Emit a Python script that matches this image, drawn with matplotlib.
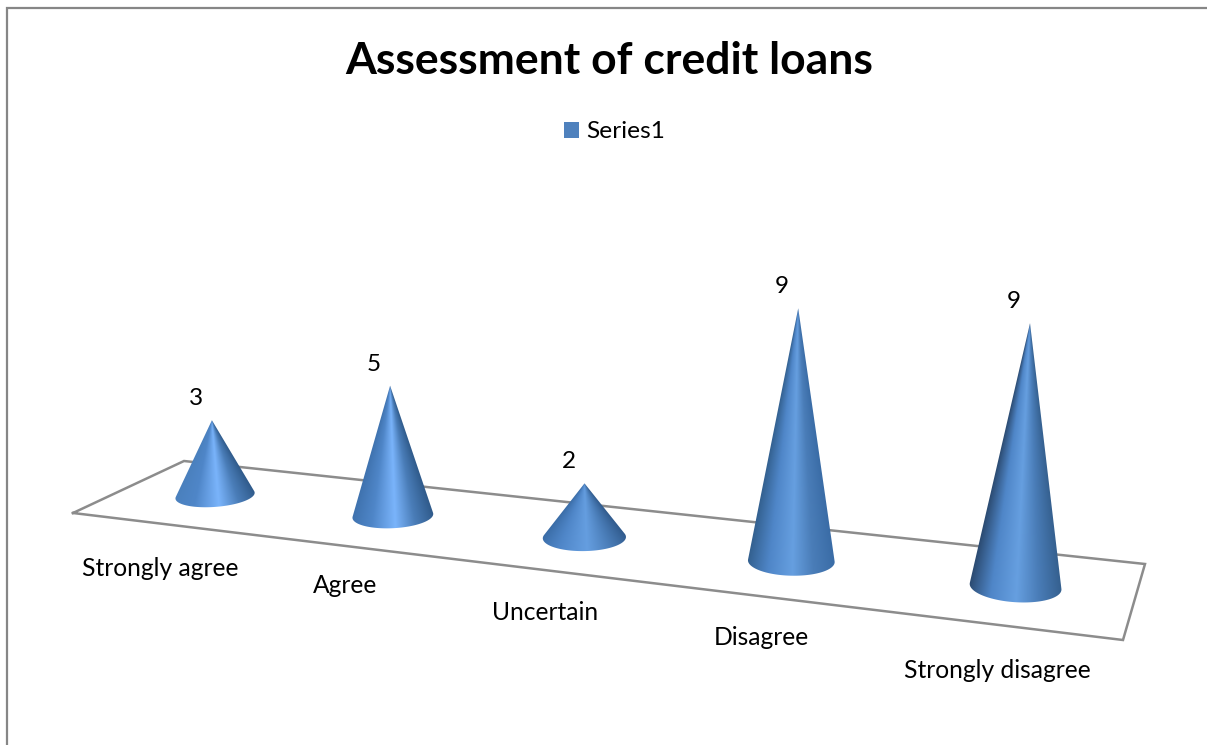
import numpy as np
import matplotlib
matplotlib.use("Agg")
import matplotlib.pyplot as plt
from matplotlib.colors import to_rgb
from matplotlib.patches import Patch, Polygon

# Survey responses
categories = ["Strongly agree", "Agree", "Uncertain", "Disagree", "Strongly disagree"]
values = [3, 5, 2, 9, 9]
series_name = "Series1"
chart_title = "Assessment of credit loans"

# Floor plane of the 3-D view, in figure pixels: front-left, front-right, back-right, back-left
FLOOR = np.array([[73, 513], [1123, 640], [1145, 564], [184, 461]], dtype=float)
RADIUS_U, RADIUS_V = 0.0388, 0.205
UNIT_HEIGHT = 25.8
LEAN = 1.25e-4
LEAN_CENTRE = 570.0
LABEL_DROP = [44.5, 39.5, 42, 41.5, 46]

# Cone shading, one colour per cone for the left edge, the highlight and the right edge
EDGE_LEFT = ["#4a80bd", "#3f72ae", "#3a6ca6", "#33608f", "#2b4a70"]
HIGHLIGHT = ["#7ab4fb", "#7ab4fb", "#659ee0", "#669fe0", "#669fe0"]
EDGE_RIGHT = ["#2f5a8a", "#2f5a8a", "#305a8c", "#3a6ca6", "#35608f"]
BLUE_LEFT, BLUE_RIGHT = "#4f86c8", "#4a7db8"
FLOOR_GREY = "#8c8c8c"
FRAME_GREY = "#868686"
LEGEND_BLUE = "#4f81bd"
FONT = "Lato"


def floor_projection(corners):
    """Projective map from the unit square on the floor to pixels."""
    (x0, y0), (x1, y1), (x2, y2), (x3, y3) = corners
    dx1, dx2, dx3 = x1 - x2, x3 - x2, x0 - x1 + x2 - x3
    dy1, dy2, dy3 = y1 - y2, y3 - y2, y0 - y1 + y2 - y3
    det = dx1 * dy2 - dx2 * dy1
    g = (dx3 * dy2 - dx2 * dy3) / det
    h = (dx1 * dy3 - dx3 * dy1) / det
    a, b = x1 - x0 + g * x1, x3 - x0 + h * x3
    d, e = y1 - y0 + g * y1, y3 - y0 + h * y3

    def project(u, v):
        w = g * u + h * v + 1.0
        return (a * u + b * v + x0) / w, (d * u + e * v + y0) / w, w

    return project


def shade(s, i):
    stops = [0.0, 0.25, 0.52, 0.75, 1.0]
    cols = np.array([to_rgb(c) for c in (EDGE_LEFT[i], BLUE_LEFT, HIGHLIGHT[i],
                                         BLUE_RIGHT, EDGE_RIGHT[i])])
    return np.stack([np.interp(s, stops, cols[:, k]) for k in range(3)], axis=-1)


project = floor_projection(FLOOR)

fig = plt.figure(figsize=(12.07, 7.45), dpi=100)
ax = fig.add_axes([0, 0, 1, 1])
ax.axis("off")

# Chart frame: only the top and left sides fall inside the canvas
ax.plot([7, 7, 1207], [745, 8, 8], color=FRAME_GREY, lw=1.6, solid_capstyle="butt",
        solid_joinstyle="miter", zorder=1)

# Floor outline
ax.plot(*np.vstack([FLOOR, FLOOR[:1]]).T, color=FLOOR_GREY, lw=1.8, zorder=2,
        solid_joinstyle="miter")

n = len(categories)
theta = np.linspace(0, 2 * np.pi, 721)[:-1]
for i, (cat, val) in enumerate(zip(categories, values)):
    u0 = (i + 0.5) / n
    cx, cy, w0 = project(u0, 0.5)
    height = val * UNIT_HEIGHT / w0
    apex_x = cx + (cx - LEAN_CENTRE) * LEAN * height
    apex_y = cy - height

    rim_x, rim_y, _ = project(u0 + RADIUS_U * np.cos(theta), 0.5 + RADIUS_V * np.sin(theta))

    # Silhouette: the apex plus the near arc between the two tangent rays
    slope = (rim_x - apex_x) / (rim_y - apex_y)
    i_left, i_right = int(np.argmin(slope)), int(np.argmax(slope))
    steps = (i_left - i_right) % len(theta)
    arc_a = (i_right + np.arange(steps + 1)) % len(theta)
    arc_b = (i_left + np.arange(len(theta) - steps + 1)) % len(theta)
    arc = arc_a if rim_y[arc_a].mean() > rim_y[arc_b].mean() else arc_b
    outline = np.vstack([[apex_x, apex_y], np.column_stack([rim_x[arc], rim_y[arc]])])
    silhouette = Polygon(outline, closed=True, transform=ax.transData)

    # Shading runs along straight rays from the apex, fading from edge to highlight
    x0, x1 = np.floor(outline[:, 0].min()) - 1, np.ceil(outline[:, 0].max()) + 1
    y0, y1 = np.floor(apex_y) - 1, np.ceil(rim_y.max()) + 1
    gx, gy = np.meshgrid(np.arange(x0, x1, 0.5) + 0.25, np.arange(y0, y1, 0.5) + 0.25)
    ray = (gx - apex_x) / np.maximum(gy - apex_y, 0.5)
    s = np.clip((ray - slope.min()) / (slope.max() - slope.min()), 0, 1)
    image = ax.imshow(shade(s, i), extent=(x0, x1, y1, y0), origin="upper", aspect="auto",
                      interpolation="bilinear", zorder=3)
    image.set_clip_path(silhouette)

    ax.text(apex_x - 16, apex_y - 21.5, str(val), ha="center", va="center",
            fontsize=17.5, family=FONT, color="black", zorder=5)

    fx, fy, _ = project(u0, 0.0)
    ax.text(fx, fy + LABEL_DROP[i], cat, ha="center", va="center",
            fontsize=17.7, family=FONT, color="black", zorder=5)

ax.text(609.5, 61.5, chart_title, ha="center", va="center", fontsize=32, fontweight="bold",
        family=FONT, color="black")

ax.legend(handles=[Patch(facecolor=LEGEND_BLUE, label=series_name)],
          loc="center", bbox_to_anchor=(614.5 / 1207, 1 - 132 / 745),
          frameon=False, handlelength=0.62, handleheight=0.62, handletextpad=0.3,
          borderpad=0, prop={"family": FONT, "size": 17.6})

ax.set_xlim(0, 1207)
ax.set_ylim(745, 0)

fig.savefig("out.png", dpi=100, facecolor="white")
